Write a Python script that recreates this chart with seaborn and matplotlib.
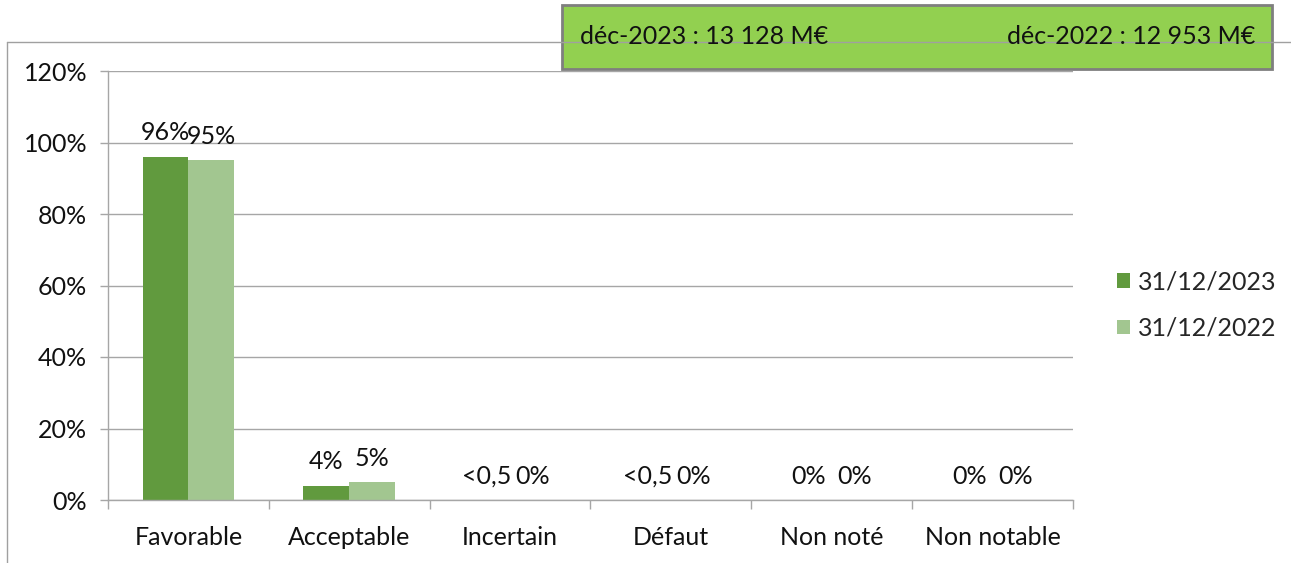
import matplotlib
matplotlib.use("Agg")
import matplotlib.pyplot as plt
import seaborn as sns
import pandas as pd
from matplotlib.lines import Line2D
from matplotlib.patches import Rectangle, Patch

categories = ["Favorable", "Acceptable", "Incertain", "Défaut", "Non noté", "Non notable"]
series_names = ["31/12/2023", "31/12/2022"]
vals_2023 = [96, 4, 0, 0, 0, 0]
vals_2022 = [95, 5, 0, 0, 0, 0]
labels_2023 = ["96%", "4%", "<0,5", "<0,5", "0%", "0%"]
labels_2022 = ["95%", "5%", "0%", "0%", "0%", "0%"]
yticks = [0, 20, 40, 60, 80, 100, 120]
box_left = "déc-2023 : 13 128 M€"
box_right = "déc-2022 : 12 953 M€"

colors = ["#619A3E", "#A2C690"]

sns.set_theme(style="white")
plt.rcParams["font.family"] = ["Lato", "DejaVu Sans"]
FS = 18

df = pd.DataFrame({
    "cat": categories * 2,
    "val": vals_2023 + vals_2022,
    "series": [series_names[0]] * len(categories) + [series_names[1]] * len(categories),
})

fig = plt.figure(figsize=(12.91, 5.63), dpi=100)
ax = fig.add_axes([108 / 1291, 1 - 500 / 563, (1073 - 108) / 1291, (500 - 71) / 563])

sns.barplot(data=df, x="cat", y="val", hue="series", palette=colors, width=0.57,
            ax=ax, legend=False, saturation=1, linewidth=0, gap=0)

ax.set_ylim(0, 120)
ax.set_xlim(-0.5, len(categories) - 0.5)
ax.set_yticks(yticks)
ax.set_yticklabels([f"{t}%" for t in yticks], fontsize=FS, color="#111111")
ax.set_xticks(range(len(categories)))
ax.set_xticklabels(categories, fontsize=FS, color="#111111")
ax.set_xticks([i - 0.5 for i in range(len(categories) + 1)], minor=True)
ax.tick_params(axis="x", which="major", length=0, pad=19)
ax.tick_params(axis="x", which="minor", length=6.5, color="#a6a6a6", width=1, direction="out", bottom=True)
ax.tick_params(axis="y", length=6, color="#a6a6a6", width=1, direction="out", left=True, pad=9)
ax.set_xlabel("")
ax.set_ylabel("")

ax.yaxis.grid(True, color="#a6a6a6", linewidth=1)
ax.set_axisbelow(True)
for s in ["top", "right"]:
    ax.spines[s].set_visible(False)
ax.spines["left"].set_color("#a6a6a6")
ax.spines["bottom"].set_color("#a6a6a6")
ax.spines["left"].set_linewidth(1)
ax.spines["bottom"].set_linewidth(1)

for cont, labs in zip(ax.containers, [labels_2023, labels_2022]):
    ax.bar_label(cont, labels=labs, padding=9, fontsize=FS, color="#111111")

handles = [Patch(facecolor=c, edgecolor="none") for c in colors]
fig.legend(handles, series_names, loc="center left", bbox_to_anchor=(1117 / 1291, 1 - 305 / 563),
           frameon=False, fontsize=FS, handlelength=0.52, handleheight=0.52, handletextpad=0.3,
           labelspacing=0.95, borderaxespad=0, borderpad=0)

# outer frame lines
fig.add_artist(Line2D([7 / 1291, 1], [1 - 42 / 563] * 2, color="#a0a0a0", lw=1))
fig.add_artist(Line2D([7 / 1291] * 2, [0, 1 - 42 / 563], color="#a0a0a0", lw=1))

# green info box
bx0, bx1, by0, by1 = 562 / 1291, 1272 / 1291, 1 - 69 / 563, 1 - 5 / 563
fig.add_artist(Rectangle((bx0, by0), bx1 - bx0, by1 - by0, transform=fig.transFigure,
                         facecolor="#92D050", edgecolor="#7f7f7f", lw=2))
fig.text(580 / 1291, (by0 + by1) / 2, box_left, fontsize=FS, va="center", ha="left", color="#111111")
fig.text(1255 / 1291, (by0 + by1) / 2, box_right, fontsize=FS, va="center", ha="right", color="#111111")

fig.savefig("out.png", dpi=100, facecolor="white")
